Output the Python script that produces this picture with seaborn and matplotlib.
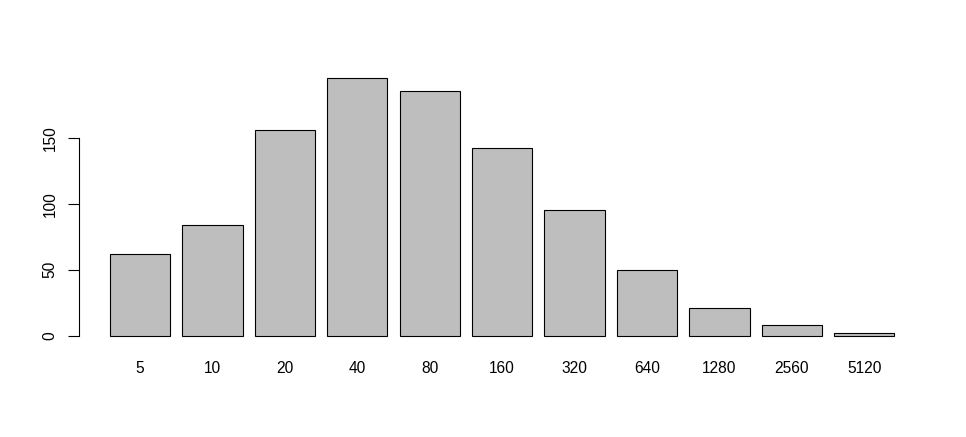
import matplotlib
matplotlib.use("Agg")
import matplotlib.pyplot as plt
import seaborn as sns
import pandas as pd

categories = ["5", "10", "20", "40", "80", "160", "320", "640", "1280", "2560", "5120"]
counts = [62, 84, 156, 195, 185, 142, 95, 50, 21, 8, 2]
y_ticks = [0, 50, 100, 150]

df = pd.DataFrame({"cat": categories, "n": counts})

sns.set_theme(style="white")
plt.rcParams['font.family'] = ['Liberation Sans', 'DejaVu Sans']

fig = plt.figure(figsize=(9.66, 4.37), dpi=100)
ax = fig.add_axes([79/966, (437-346)/437, (926-79)/966, (346-68)/437])

sns.barplot(data=df, x="cat", y="n", order=categories, color="#BEBEBE",
            saturation=1, width=1/1.2, edgecolor="black", linewidth=0.8, ax=ax)

ax.set_xlim((79 - 140) / 72.43, (926 - 140) / 72.43)
ax.set_ylim(-7.8, 202.8)
ax.set_xlabel("")
ax.set_ylabel("")

for s in ["top", "right", "bottom"]:
    ax.spines[s].set_visible(False)
ax.spines["left"].set_bounds(0, 150)
ax.spines["left"].set_color("black")
ax.spines["left"].set_linewidth(0.8)

ax.set_yticks(y_ticks)
ax.set_yticklabels([str(v) for v in y_ticks], rotation=90, va="center", fontsize=11.2)
ax.tick_params(axis="y", which="both", left=True, length=8, width=0.8, color="black", pad=7.5, labelcolor="black")
ax.tick_params(axis="x", length=0, pad=11, labelsize=11.2, labelcolor="black")

fig.savefig("out.png", dpi=100)
